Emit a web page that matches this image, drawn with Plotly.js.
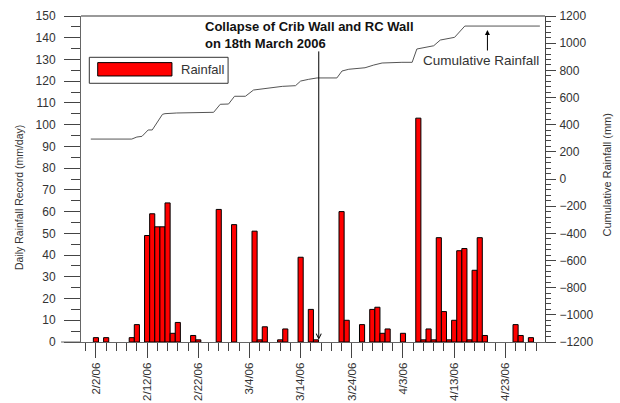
<!DOCTYPE html>
<html><head><meta charset="utf-8">
<script src="https://cdn.plot.ly/plotly-3.0.1.min.js"></script>
<style>html,body{margin:0;padding:0;background:#fff}#chart{width:620px;height:403px}</style>
</head><body><div id="chart"></div>
<script>
// Daily rainfall (mm/day)
const rainDates = ['2006-02-02','2006-02-04','2006-02-09','2006-02-10','2006-02-12','2006-02-13','2006-02-14','2006-02-15','2006-02-16','2006-02-17','2006-02-18','2006-02-21','2006-02-22','2006-02-26','2006-03-01','2006-03-05','2006-03-06','2006-03-07','2006-03-10','2006-03-11','2006-03-14','2006-03-16','2006-03-17','2006-03-22','2006-03-23','2006-03-26','2006-03-28','2006-03-29','2006-03-30','2006-03-31','2006-04-03','2006-04-06','2006-04-07','2006-04-08','2006-04-09','2006-04-10','2006-04-11','2006-04-12','2006-04-13','2006-04-14','2006-04-15','2006-04-16','2006-04-17','2006-04-18','2006-04-19','2006-04-25','2006-04-26','2006-04-28'];
const rainValues = [2,2,2,8,49,59,53,53,64,4,9,3,1,61,54,51,1,7,1,6,39,15,1,60,10,8,15,16,4,6,4,103,1,6,1,48,14,1,10,42,43,1,33,48,3,8,3,2];

// Cumulative rainfall (mm)
const cumDates = ['2006-02-01','2006-02-09','2006-02-10','2006-02-11','2006-02-12 05:00','2006-02-13','2006-02-15','2006-02-15 12:00','2006-02-17 19:00','2006-02-20 19:00','2006-02-25','2006-02-26 07:00','2006-02-27 22:00','2006-03-01 02:00','2006-03-03 05:00','2006-03-04 19:00','2006-03-06 10:00','2006-03-08 10:00','2006-03-10 10:00','2006-03-13','2006-03-14','2006-03-15 14:00','2006-03-17 05:00','2006-03-21 02:00','2006-03-22 02:00','2006-03-23 10:00','2006-03-26 14:00','2006-03-28 07:00','2006-03-29 22:00','2006-04-02 19:00','2006-04-04 19:00','2006-04-05 17:00','2006-04-07 10:00','2006-04-09','2006-04-10 07:00','2006-04-12 07:00','2006-04-13 02:00','2006-04-15 02:00','2006-04-29 18:00'];
const cumValues = [294,294,309,314,361,361,476,481,486,488,491,550,552,609,609,655,663,672,682,687,721,734,744,744,795,808,819,839,854,859,859,957,967,981,1023,1036,1043,1126,1126];

const collapseDate = '2006-03-17 13:00';
const titleText = 'Collapse of Crib Wall and RC Wall<br>on 18th March 2006';
const FONT = 'Liberation Sans, Arial, sans-serif';
const DAY = 86400000;

const traces = [
  {type:'bar', x: rainDates, y: rainValues, width: DAY, name:'Rainfall',
   marker:{color:'#ff0000', line:{color:'#000', width:1}}, showlegend:false, hoverinfo:'x+y'},
  {type:'scatter', mode:'lines', x: cumDates, y: cumValues, yaxis:'y2', name:'Cumulative Rainfall',
   line:{color:'#555', width:1}, showlegend:false}
];

const layout = {
  width:620, height:403,
  margin:{l:81, r:75, t:16, b:61, pad:0},
  paper_bgcolor:'#fff', plot_bgcolor:'#fff',
  font:{family:FONT, size:12, color:'#333'},
  showlegend:false,
  xaxis:{type:'date', range:['2006-01-30 02:00','2006-04-30 18:00'],
    tick0:'2006-02-02', dtick:10*DAY, tickformat:'%-m/%-d/%y', tickangle:-90,
    ticks:'outside', ticklen:15, tickcolor:'#444', tickwidth:1,
    minor:{dtick:2*DAY, tick0:'2006-02-02', ticks:'outside', ticklen:8, tickcolor:'#444', showgrid:false},
    showline:true, linecolor:'#666', linewidth:1, showgrid:false, zeroline:false,
    ticklabelstandoff:0, tickfont:{size:11.5, color:'#333'}},
  yaxis:{range:[0,150], dtick:10, tick0:0, ticks:'outside', ticklen:16, tickcolor:'#444',
    minor:{dtick:5, ticks:'outside', ticklen:9, tickcolor:'#444', showgrid:false},
    showline:true, linecolor:'#666', linewidth:1, showgrid:false, zeroline:false,
    ticklabelstandoff:6, tickfont:{size:12, color:'#333'}},
  yaxis2:{overlaying:'y', side:'right', range:[-1200,1200], dtick:200, tick0:0,
    ticks:'outside', ticklen:10, tickcolor:'#444',
    minor:{dtick:40, ticks:'outside', ticklen:5, tickcolor:'#444', showgrid:false},
    showline:true, linecolor:'#444', linewidth:1, showgrid:false, zeroline:false,
    ticklabelstandoff:1, tickfont:{size:12, color:'#333'}},
  shapes:[
    {type:'line', xref:'paper', yref:'paper', x0:0, x1:1, y0:1, y1:1, line:{color:'#999', width:2}},
    {type:'line', xref:'paper', yref:'paper', x0:-0.043, x1:0, y0:0, y1:0, line:{color:'#666', width:1}},
    {type:'rect', xref:'paper', yref:'paper', x0:0.0179, x1:0.317, y0:0.7936, y1:0.8733, line:{color:'#333', width:1}, fillcolor:'rgba(0,0,0,0)'},
    {type:'rect', xref:'paper', yref:'paper', x0:0.036, x1:0.196, y0:0.816, y1:0.857, line:{color:'#000', width:1}, fillcolor:'#ff0000'}
  ],
  annotations:[
    {text:'Daily Rainfall Record (mm/day)', xref:'paper', yref:'paper', x:-0.1336, y:0.4417, xanchor:'center', yanchor:'middle', textangle:-90, showarrow:false, font:{size:10.5, color:'#333'}},
    {text:'Cumulative Rainfall (mm)', xref:'paper', yref:'paper', x:1.1315, y:0.5107, xanchor:'center', yanchor:'middle', textangle:-90, showarrow:false, font:{size:11, color:'#333'}},
    {text:titleText, xref:'paper', yref:'paper', x:0.263, y:0.997, xanchor:'left', yanchor:'top', align:'left', showarrow:false, font:{size:13, color:'#111', weight:'bold'}},
    {text:'', x:collapseDate, y:1, xref:'x', yref:'y', ax:collapseDate, ay:134.4, axref:'x', ayref:'y',
     showarrow:true, arrowhead:5, arrowsize:1, arrowwidth:1, arrowcolor:'#000'},
    {text:'Cumulative Rainfall', x:'2006-04-18 07:00', y:876, xref:'x', yref:'y2', showarrow:false, font:{size:13.5, color:'#333'}},
    {text:'', x:'2006-04-19 12:00', y:1097, xref:'x', yref:'y2', ax:'2006-04-19 12:00', ay:935, axref:'x', ayref:'y2',
     showarrow:true, arrowhead:2, arrowsize:1, arrowwidth:1, arrowcolor:'#000'},
    {text:'Rainfall', xref:'paper', yref:'paper', x:0.2106, y:0.836, xanchor:'left', yanchor:'middle', showarrow:false, font:{size:13, color:'#333'}}
  ]
};

Plotly.newPlot('chart', traces, layout, {staticPlot:true, displayModeBar:false});
</script>
</body></html>
